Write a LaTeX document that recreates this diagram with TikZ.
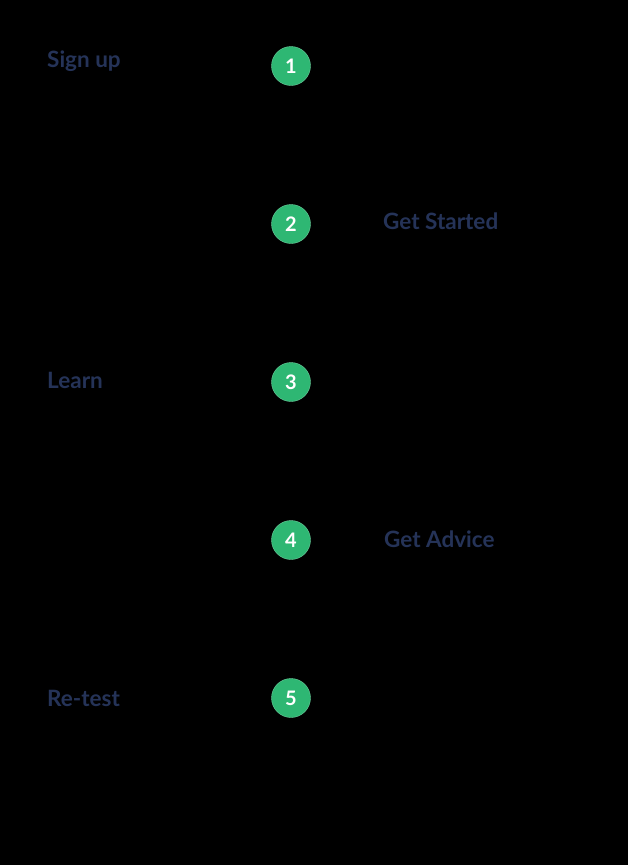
\documentclass[tikz,border=0pt]{standalone}
\usepackage{fontspec}
\setmainfont{Lato}
\usepackage{xcolor}
\usepackage{tikz}

\begin{document}
\begin{tikzpicture}[x=1pt, y=-1pt]
    % --- GLOBAL DEFINITIONS ---
    \def\dotx{291} % x of the number column
    \def\gap{158}  % distance between two steps

    % Custom colors
    \definecolor{dotgreen}{RGB}{46, 183, 115}
    \definecolor{labelnavy}{RGB}{37, 51, 88}

    \tikzset{
        numdot/.style={circle, fill=dotgreen, draw=dotgreen!70!white, minimum size=39pt, inner sep=0pt,
            text=white, font=\fontsize{20}{20}\selectfont\bfseries},
        steplabel/.style={text=labelnavy, font=\fontsize{22.5}{22.5}\selectfont\bfseries, inner sep=0pt},
    }

    % background
    \fill[black] (0,0) rectangle (628,865);
    \useasboundingbox (0,0) rectangle (628,865);

    % NUMBER DOTS
    \foreach \i in {1,...,5} {
        \node[numdot] (dot\i) at (\dotx, {66+(\i-1)*\gap}) {\i};
    }

    % LEFT LABELS
    \node[steplabel, anchor=base west] (signup) at (47, 67) {Sign up};
    \node[steplabel, anchor=base west] (learn) at (47, 388) {Learn};
    \node[steplabel, anchor=base west] (retest) at (47, 706) {Re-test};

    % RIGHT LABELS
    \node[steplabel, anchor=base west] (started) at (383, 229) {Get Started};
    \node[steplabel, anchor=base west] (advice) at (384, 547) {Get Advice};
\end{tikzpicture}
\end{document}
